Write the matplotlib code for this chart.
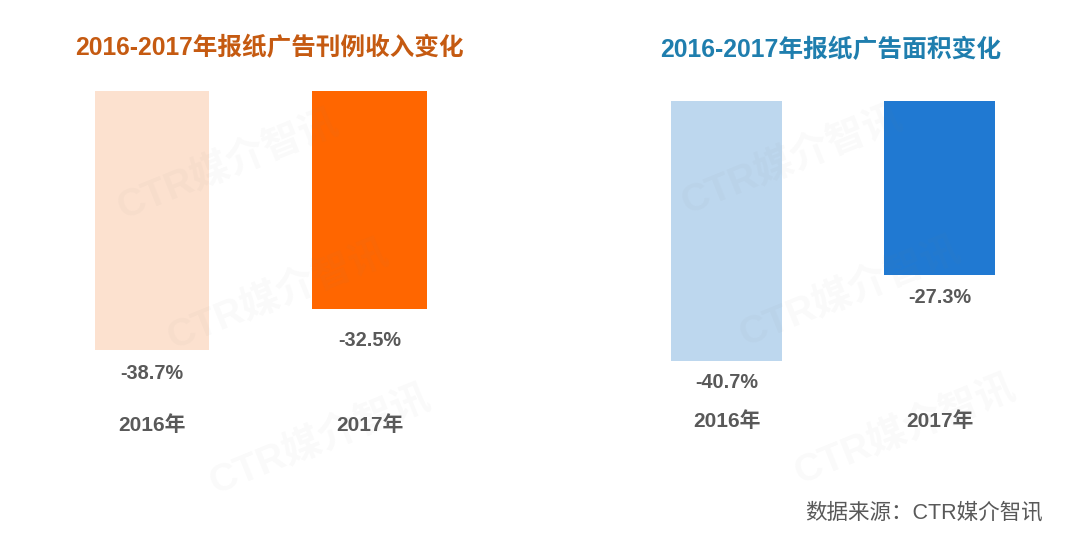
import matplotlib
matplotlib.use("Agg")
import matplotlib.pyplot as plt
import matplotlib.transforms as mtransforms

W, H = 1080, 542
categories = ["2016年", "2017年"]
revenue_change = [-38.7, -32.5]
area_change = [-40.7, -27.3]
title_left = "2016-2017年报纸广告刊例收入变化"
title_right = "2016-2017年报纸广告面积变化"
source_text = "数据来源：CTR媒介智讯"
watermark = "CTR媒介智讯"

FAM = ["Liberation Sans", "Noto Sans CJK SC", "DejaVu Sans"]
plt.rcParams["font.family"] = FAM

fig = plt.figure(figsize=(W / 100, H / 100), dpi=100)
fig.patch.set_facecolor("white")


def px_axes(x0, y_top, w, h):
    return fig.add_axes([x0 / W, 1 - (y_top + h) / H, w / W, h / H])


def panel(ax, values, colors, bar_w, label_y_px, label_offsets):
    ax.bar(range(len(values)), values, width=bar_w, color=colors, zorder=2)
    ax.set_xlim(-0.5, 1.5)
    ax.set_ylim(-50, 0)
    ax.axis("off")
    for i, v in enumerate(values):
        ax.annotate(f"{v:.1f}%", (i, v), xytext=(0, label_offsets[i]),
                    textcoords="offset points", ha="center", va="center",
                    fontsize=14.3, fontweight="bold", color="#595959")
    tr = mtransforms.blended_transform_factory(ax.transData, fig.transFigure)
    for i, c in enumerate(categories):
        ax.text(i, 1 - label_y_px / H, c, transform=tr, ha="center", va="center",
                fontsize=15, fontweight="bold", color="#595959")


# Left panel: centers at 152 and 369.5 px, top at 91 px
axL = px_axes(43.25, 91, 435, 335)
panel(axL, revenue_change, ["#FCE1CF", "#FF6600"], 0.525, 425, [-17, -23])

# Right panel: centers at 726.5 and 939.5 px, top at 101 px
axR = px_axes(620, 101, 426, 319)
panel(axR, area_change, ["#BDD7EE", "#2079D2"], 0.52, 421, [-16, -16])

fig.text(75 / W, 1 - 48 / H, title_left, ha="left", va="center",
         fontsize=17.7, fontweight="bold", color="#C55A11")
fig.text(660 / W, 1 - 50 / H, title_right, ha="left", va="center",
         fontsize=17.8, fontweight="bold", color="#1F7EAE")

fig.text(1043 / W, 1 - 513 / H, source_text, ha="right", va="center",
         fontsize=15.5, color="#595959")

for (cx, cy) in [(228, 165), (278, 295), (320, 440), (792, 160), (850, 292), (905, 430)]:
    fig.text(cx / W, 1 - cy / H, watermark, ha="center", va="center",
             rotation=22, rotation_mode="anchor", fontsize=28, fontweight="bold",
             color="#808080", alpha=0.045, zorder=10)

fig.savefig("out.png", dpi=100)
